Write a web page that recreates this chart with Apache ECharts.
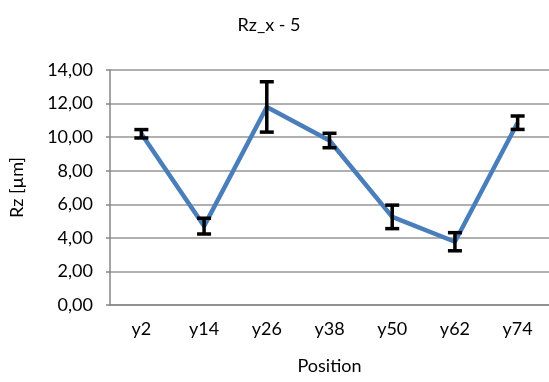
<!DOCTYPE html>
<html>
<head>
<meta charset="utf-8">
<script src="https://cdn.jsdelivr.net/npm/echarts@6/dist/echarts.min.js"></script>
<style>
  html, body { margin: 0; padding: 0; background: #fff; }
  #chart { width: 549px; height: 382px; }
</style>
</head>
<body>
<div id="chart"></div>
<script>
const positions = ['y2', 'y14', 'y26', 'y38', 'y50', 'y62', 'y74'];
const rzMean = [10.2, 4.7, 11.8, 9.8, 5.25, 3.77, 10.86];
const rzErr = [0.25, 0.47, 1.5, 0.43, 0.7, 0.54, 0.4];

const FONT = 'Lato, "Open Sans", sans-serif';

// error bar triples: [category index, low, high]
let errData = positions.map((p, i) => [i, rzMean[i] - rzErr[i], rzMean[i] + rzErr[i]]);

function renderErrBar(params, api) {
  let x = api.value(0);
  let lo = api.coord([x, api.value(1)]);
  let hi = api.coord([x, api.value(2)]);
  let half = 7;
  let style = { stroke: '#000', lineWidth: 3.5, fill: null };
  return {
    type: 'group',
    children: [
      { type: 'line', shape: { x1: hi[0], y1: hi[1], x2: lo[0], y2: lo[1] }, style: style },
      { type: 'line', shape: { x1: hi[0] - half, y1: hi[1], x2: hi[0] + half, y2: hi[1] }, style: style },
      { type: 'line', shape: { x1: lo[0] - half, y1: lo[1], x2: lo[0] + half, y2: lo[1] }, style: style }
    ]
  };
}

let chart = echarts.init(document.getElementById('chart'));
chart.setOption({
  animation: false,
  title: {
    text: 'Rz_x - 5',
    left: 264,
    top: 11,
    textAlign: 'center',
    textStyle: { fontFamily: FONT, fontSize: 18, fontWeight: 'normal', color: '#000' }
  },
  grid: { left: 108, right: 0, top: 70, bottom: 77 },
  xAxis: {
    type: 'category',
    data: positions,
    name: 'Position',
    nameLocation: 'middle',
    nameGap: 52,
    nameTextStyle: { fontFamily: FONT, fontSize: 18, color: '#000' },
    axisLine: { lineStyle: { color: '#868686', width: 1.5 } },
    axisTick: { show: false },
    axisLabel: { fontFamily: FONT, fontSize: 18, color: '#000', margin: 15 }
  },
  yAxis: {
    type: 'value',
    min: 0,
    max: 14,
    interval: 2,
    name: 'Rz [µm]',
    nameLocation: 'middle',
    nameGap: 84,
    nameTextStyle: { fontFamily: FONT, fontSize: 18, color: '#000' },
    axisLine: { show: true, lineStyle: { color: '#868686', width: 1.5 } },
    axisTick: { show: true, length: 4, lineStyle: { color: '#868686', width: 1.5 } },
    splitLine: { lineStyle: { color: '#969696', width: 1.5 } },
    axisLabel: {
      fontFamily: FONT, fontSize: 18, color: '#000', margin: 17,
      formatter: v => v.toFixed(2).replace('.', ',')
    }
  },
  series: [
    {
      type: 'line',
      data: rzMean,
      symbol: 'none',
      lineStyle: { color: '#4a7ebb', width: 4.5 },
      z: 2
    },
    {
      type: 'custom',
      data: errData,
      renderItem: renderErrBar,
      encode: { x: 0, y: [1, 2] },
      z: 3
    }
  ]
});
</script>
</body>
</html>
